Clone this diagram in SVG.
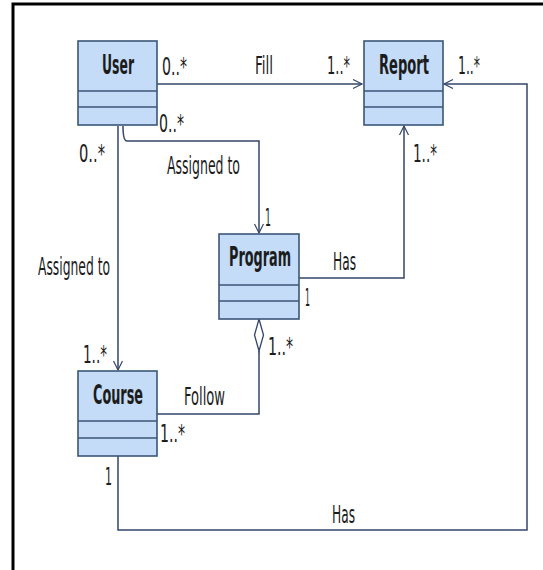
<svg xmlns="http://www.w3.org/2000/svg" width="543" height="570" viewBox="0 0 543 570">
<style>
.box{fill:#c4dcf8;stroke:#3b5678;stroke-width:1.6}
.div{stroke:#3b5678;stroke-width:1.6}
.t{font-family:"DejaVu Sans Condensed","DejaVu Sans",sans-serif;font-size:26px;fill:#1c1c1c}
.b{font-weight:bold;font-size:26px}
.l{font-size:25px}
.c{fill:none;stroke:#33466a;stroke-width:1.5}
</style>
<defs>
<marker id="arr" markerWidth="12" markerHeight="12" refX="10" refY="5" orient="auto" markerUnits="userSpaceOnUse">
<path d="M1,0.5 L10,5 L1,9.5" fill="none" stroke="#33466a" stroke-width="1.2"/>
</marker>
</defs>
<rect x="13" y="4" width="560" height="600" fill="#fff" stroke="#000" stroke-width="3"/>
<g id="connectors">
<path class="c" d="M157,84 H362" marker-end="url(#arr)"/>
<path class="c" d="M118,456 V530 H527 V84 H444" marker-end="url(#arr)"/>
<path class="c" d="M299,278 H404 V126" marker-end="url(#arr)"/>
<path class="c" d="M123,126 Q123,141 127,141 H259 V233" marker-end="url(#arr)"/>
<path class="c" d="M118,126 V370" marker-end="url(#arr)"/>
<path class="c" d="M157,414 H259 V351"/>
<path d="M259,319 L263.5,335 L259,351 L254.5,335 Z" fill="#fff" stroke="#33466a" stroke-width="1.3"/>
<text class="t l" x="162" y="75" textLength="25" lengthAdjust="spacingAndGlyphs">0..*</text>
<text class="t l" x="255" y="74" textLength="18" lengthAdjust="spacingAndGlyphs">Fill</text>
<text class="t l" x="327" y="74" textLength="23" lengthAdjust="spacingAndGlyphs">1..*</text>
<text class="t l" x="458" y="74" textLength="22" lengthAdjust="spacingAndGlyphs">1..*</text>
<text class="t l" x="159" y="132" textLength="25" lengthAdjust="spacingAndGlyphs">0..*</text>
<text class="t l" x="79" y="162" textLength="26" lengthAdjust="spacingAndGlyphs">0..*</text>
<text class="t l" x="167" y="174" textLength="73" lengthAdjust="spacingAndGlyphs">Assigned to</text>
<text class="t l" x="265" y="226" textLength="6" lengthAdjust="spacingAndGlyphs">1</text>
<text class="t l" x="413" y="162" textLength="24" lengthAdjust="spacingAndGlyphs">1..*</text>
<text class="t l" x="333" y="270" textLength="23" lengthAdjust="spacingAndGlyphs">Has</text>
<text class="t l" x="305" y="306" textLength="5" lengthAdjust="spacingAndGlyphs">1</text>
<text class="t l" x="38" y="275" textLength="72" lengthAdjust="spacingAndGlyphs">Assigned to</text>
<text class="t l" x="83" y="363" textLength="24" lengthAdjust="spacingAndGlyphs">1..*</text>
<text class="t l" x="268" y="355" textLength="25" lengthAdjust="spacingAndGlyphs">1..*</text>
<text class="t l" x="184" y="405" textLength="41" lengthAdjust="spacingAndGlyphs">Follow</text>
<text class="t l" x="160" y="442" textLength="25" lengthAdjust="spacingAndGlyphs">1..*</text>
<text class="t l" x="105" y="485" textLength="7" lengthAdjust="spacingAndGlyphs">1</text>
<text class="t l" x="332" y="523" textLength="23" lengthAdjust="spacingAndGlyphs">Has</text>
</g>
<g id="user">
<rect class="box" x="78" y="41" width="79" height="84"/>
<line class="div" x1="78" y1="91" x2="157" y2="91"/>
<line class="div" x1="78" y1="107" x2="157" y2="107"/>
<text class="t b" x="102" y="74" textLength="32" lengthAdjust="spacingAndGlyphs">User</text>
</g>
<g id="report">
<rect class="box" x="364" y="41" width="79" height="84"/>
<line class="div" x1="364" y1="91" x2="443" y2="91"/>
<line class="div" x1="364" y1="107" x2="443" y2="107"/>
<text class="t b" x="379" y="74" textLength="50" lengthAdjust="spacingAndGlyphs">Report</text>
</g>
<g id="program">
<rect class="box" x="219" y="234" width="80" height="85"/>
<line class="div" x1="219" y1="285" x2="299" y2="285"/>
<line class="div" x1="219" y1="301" x2="299" y2="301"/>
<text class="t b" x="229" y="266" textLength="62" lengthAdjust="spacingAndGlyphs">Program</text>
</g>
<g id="course">
<rect class="box" x="78" y="371" width="79" height="85"/>
<line class="div" x1="78" y1="421" x2="157" y2="421"/>
<line class="div" x1="78" y1="438" x2="157" y2="438"/>
<text class="t b" x="93" y="404" textLength="50" lengthAdjust="spacingAndGlyphs">Course</text>
</g>
</svg>
